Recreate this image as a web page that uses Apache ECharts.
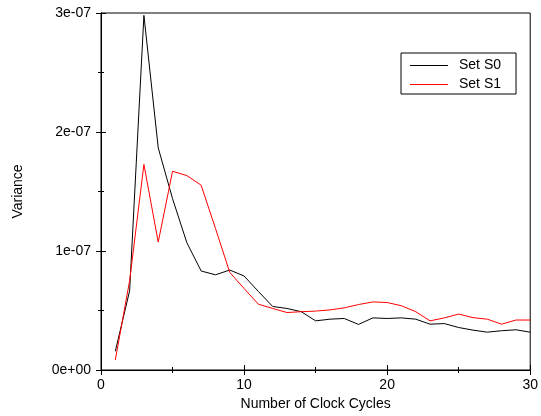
<!DOCTYPE html>
<html>
<head>
<meta charset="utf-8">
<script src="https://cdn.jsdelivr.net/npm/echarts@6/dist/echarts.min.js"></script>
<style>
html,body{margin:0;padding:0;background:#fff;}
#chart{width:541px;height:416px;}
</style>
</head>
<body>
<div id="chart"></div>
<script>
var cycles = [1,2,3,4,5,6,7,8,9,10,11,12,13,14,15,16,17,18,19,20,21,22,23,24,25,26,27,28,29,30];
var setS0 = [1.57e-8,6.65e-8,2.98e-7,1.867e-7,1.44e-7,1.07e-7,8.32e-8,8.0e-8,8.4e-8,7.9e-8,6.6e-8,5.34e-8,5.17e-8,4.9e-8,4.13e-8,4.27e-8,4.33e-8,3.83e-8,4.38e-8,4.33e-8,4.38e-8,4.27e-8,3.85e-8,3.9e-8,3.57e-8,3.35e-8,3.18e-8,3.3e-8,3.38e-8,3.18e-8];
var setS1 = [8.4e-9,7.5e-8,1.727e-7,1.075e-7,1.67e-7,1.634e-7,1.553e-7,1.19e-7,8.2e-8,6.85e-8,5.53e-8,5.17e-8,4.83e-8,4.9e-8,4.95e-8,5.05e-8,5.22e-8,5.5e-8,5.72e-8,5.67e-8,5.4e-8,4.9e-8,4.13e-8,4.38e-8,4.7e-8,4.4e-8,4.27e-8,3.85e-8,4.2e-8,4.2e-8];
var seriesNames = ['Set S0','Set S1'];
var xName = 'Number of Clock Cycles';
var yName = 'Variance';

function expFmt(v){
  var s = Number(v).toExponential(0);
  var m = s.match(/^(-?\d)e([+-])(\d+)$/);
  if(!m) return s;
  var e = m[3].length < 2 ? '0' + m[3] : m[3];
  return m[1] + 'e' + m[2] + e;
}

var font = 'Liberation Sans, Arial, Helvetica, sans-serif';
var chart = echarts.init(document.getElementById('chart'), null, {renderer:'canvas'});
function pairs(arr){ return cycles.map(function(c,i){ return [c, arr[i]]; }); }

var tickCommon = {show:true, inside:true, length:5, lineStyle:{color:'#000',width:1}};
var minorCommon = {show:true, splitNumber:2, length:3, lineStyle:{color:'#000',width:1}};

chart.setOption({
  animation:false,
  backgroundColor:'#fff',
  grid:{left:101, right:7, top:13, bottom:45, show:true, borderColor:'#000', borderWidth:1, containLabel:false},
  legend:{
    data:seriesNames,
    orient:'vertical',
    left:401, top:53,
    width:113,
    padding:[5,15,2,9],
    itemGap:4,
    itemWidth:38, itemHeight:1,
    icon:'rect',
    borderColor:'#000', borderWidth:1,
    textStyle:{fontFamily:font, fontSize:14, color:'#000', padding:[0,0,0,6], lineHeight:15}
  },
  xAxis:[{
    type:'value', min:0, max:30, interval:10, position:'bottom',
    name:xName, nameLocation:'middle', nameGap:27,
    nameTextStyle:{fontFamily:font, fontSize:14, color:'#000'},
    axisLine:{show:true, lineStyle:{color:'#000',width:1}},
    axisTick:tickCommon, minorTick:minorCommon,
    splitLine:{show:false},
    axisLabel:{fontFamily:font, fontSize:14, color:'#000', margin:8}
  },{
    type:'value', min:0, max:30, interval:10, position:'top',
    axisLine:{show:true, lineStyle:{color:'#000',width:1}},
    axisTick:tickCommon, minorTick:minorCommon,
    splitLine:{show:false}, axisLabel:{show:false}
  }],
  yAxis:[{
    type:'value', min:0, max:3e-7, interval:1e-7, position:'left',
    name:yName, nameLocation:'middle', nameGap:76, nameRotate:90,
    nameTextStyle:{fontFamily:font, fontSize:14, color:'#000'},
    axisLine:{show:true, lineStyle:{color:'#000',width:1}},
    axisTick:tickCommon, minorTick:minorCommon,
    splitLine:{show:false},
    axisLabel:{fontFamily:font, fontSize:14, color:'#000', margin:10, formatter:expFmt}
  },{
    type:'value', min:0, max:3e-7, interval:1e-7, position:'right',
    axisLine:{show:true, lineStyle:{color:'#000',width:1}},
    axisTick:tickCommon, minorTick:minorCommon,
    splitLine:{show:false}, axisLabel:{show:false}
  }],
  series:[{
    name:seriesNames[0], type:'line', data:pairs(setS0), xAxisIndex:0, yAxisIndex:0,
    showSymbol:false, symbol:'none', lineStyle:{color:'#000', width:1}, itemStyle:{color:'#000'}
  },{
    name:seriesNames[1], type:'line', data:pairs(setS1), xAxisIndex:0, yAxisIndex:0,
    showSymbol:false, symbol:'none', lineStyle:{color:'#ff0000', width:1}, itemStyle:{color:'#ff0000'}
  }]
});
</script>
</body>
</html>
